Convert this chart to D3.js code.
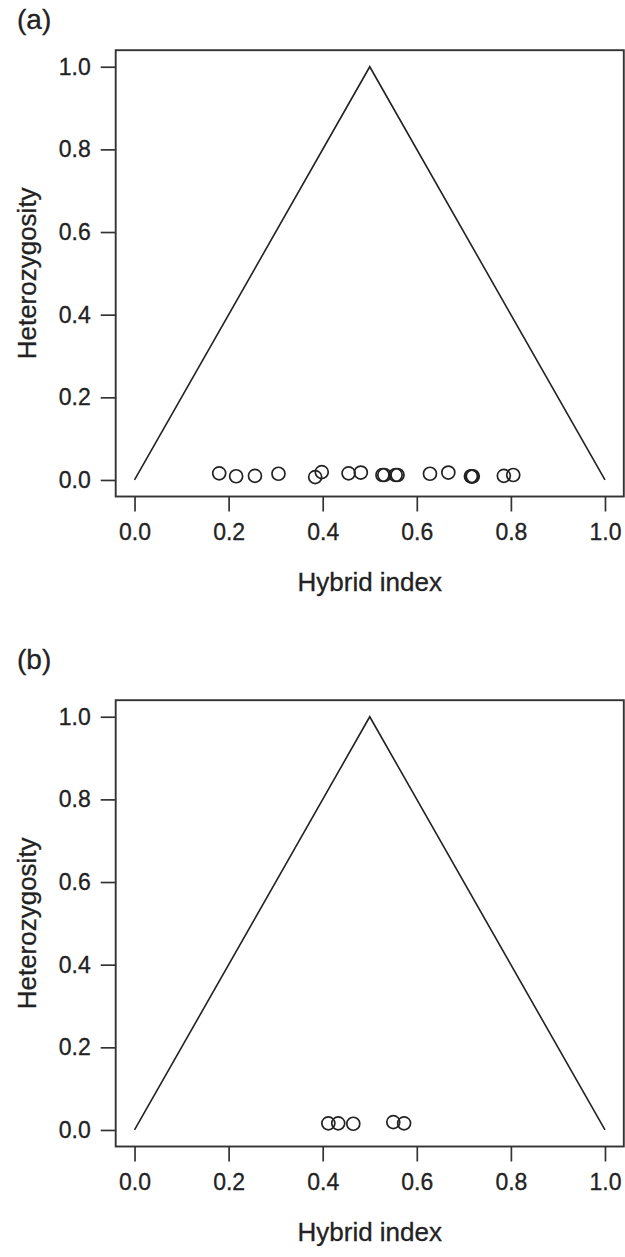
<!DOCTYPE html>
<html>
<head>
<meta charset="utf-8">
<script src="https://cdn.jsdelivr.net/npm/d3@7"></script>
<style>
  html, body { margin: 0; padding: 0; background: #fff; }
  svg { display: block; font-family: "Liberation Sans", Arial, Helvetica, sans-serif; }
</style>
</head>
<body>
<svg id="chart" width="625" height="1257"></svg>
<script>
// ---- Data ----
const panelLabels = ["(a)", "(b)"];
const xTicks = [0.0, 0.2, 0.4, 0.6, 0.8, 1.0];
const yTicks = [0.0, 0.2, 0.4, 0.6, 0.8, 1.0];
const xTitle = "Hybrid index";
const yTitle = "Heterozygosity";
// triangle boundary: maximum heterozygosity for a given hybrid index
const boundaryX = [0.0, 0.5, 1.0];
const boundaryY = [0.0, 1.0, 0.0];
// panel (a) individuals
const aHybridIndex = [0.180, 0.216, 0.256, 0.306, 0.384, 0.398, 0.455, 0.481,
                      0.527, 0.531, 0.555, 0.559, 0.628, 0.667, 0.715, 0.717, 0.719, 0.785, 0.805];
const aHeterozygosity = [0.016, 0.009, 0.010, 0.015, 0.007, 0.019, 0.016, 0.018,
                         0.012, 0.012, 0.012, 0.012, 0.015, 0.018, 0.009, 0.008, 0.009, 0.010, 0.012];
// panel (b) individuals
const bHybridIndex = [0.412, 0.433, 0.465, 0.550, 0.573];
const bHeterozygosity = [0.016, 0.016, 0.015, 0.019, 0.016];

const panels = [
  { label: panelLabels[0], hx: aHybridIndex, hy: aHeterozygosity, top: 0 },
  { label: panelLabels[1], hx: bHybridIndex, hy: bHeterozygosity, top: 650 }
];

const svg = d3.select("#chart");
const ink = "#222";

// R-style: domain [0,1] extended by 4% each side
const x = d3.scaleLinear().domain([-0.04, 1.04]).range([115.7, 623.8]);
const y = d3.scaleLinear().domain([-0.04, 1.04]).range([496.5, 50.2]);

panels.forEach((p, i) => {
  const g = svg.append("g").attr("transform", `translate(0,${p.top})`);

  // panel letter
  svg.append("text")
    .attr("x", 17).attr("y", i === 0 ? 29 : 669)
    .attr("font-size", 28).attr("fill", ink)
    .attr("stroke", ink).attr("stroke-width", 0.3)
    .text(p.label);

  // box
  g.append("rect")
    .attr("x", x(-0.04)).attr("y", y(1.04))
    .attr("width", x(1.04) - x(-0.04)).attr("height", y(-0.04) - y(1.04))
    .attr("fill", "none").attr("stroke", "#333").attr("stroke-width", 1.9);

  // x axis
  const xAxis = d3.axisBottom(x).tickValues(xTicks).tickFormat(d3.format(".1f"))
    .tickSize(15).tickPadding(12);
  const gx = g.append("g").attr("transform", `translate(0,${y(-0.04)})`).call(xAxis);
  gx.select(".domain").remove();
  gx.selectAll(".tick line").attr("stroke", "#333").attr("stroke-width", 1.7);
  gx.selectAll(".tick text").attr("font-size", 23).attr("fill", ink)
    .attr("stroke", ink).attr("stroke-width", 0.3)
    .attr("font-family", "Liberation Sans, Arial, sans-serif").attr("dy", "0.70em");

  // y axis
  const yAxis = d3.axisLeft(y).tickValues(yTicks).tickFormat(d3.format(".1f"))
    .tickSize(15).tickPadding(10);
  const gy = g.append("g").attr("transform", `translate(${x(-0.04)},0)`).call(yAxis);
  gy.select(".domain").remove();
  gy.selectAll(".tick line").attr("stroke", "#333").attr("stroke-width", 1.7);
  gy.selectAll(".tick text").attr("font-size", 23).attr("fill", ink)
    .attr("stroke", ink).attr("stroke-width", 0.3)
    .attr("font-family", "Liberation Sans, Arial, sans-serif");

  // axis titles
  g.append("text")
    .attr("x", (x(-0.04) + x(1.04)) / 2).attr("y", 591)
    .attr("text-anchor", "middle").attr("font-size", 26).attr("fill", ink)
    .attr("stroke", ink).attr("stroke-width", 0.3)
    .text(xTitle);
  g.append("text")
    .attr("transform", `translate(36,${(y(-0.04) + y(1.04)) / 2}) rotate(-90)`)
    .attr("text-anchor", "middle").attr("font-size", 26).attr("fill", ink)
    .attr("stroke", ink).attr("stroke-width", 0.3)
    .text(yTitle);

  // triangle
  const line = d3.line().x(d => x(d[0])).y(d => y(d[1]));
  g.append("path")
    .datum(boundaryX.map((v, k) => [v, boundaryY[k]]))
    .attr("d", line)
    .attr("fill", "none").attr("stroke", ink).attr("stroke-width", 1.6);

  // points
  g.selectAll("circle.pt")
    .data(p.hx.map((v, k) => [v, p.hy[k]]))
    .join("circle").attr("class", "pt")
    .attr("cx", d => x(d[0])).attr("cy", d => y(d[1]))
    .attr("r", 6.5)
    .attr("fill", "none").attr("stroke", ink).attr("stroke-width", 1.7);
});
</script>
</body>
</html>
